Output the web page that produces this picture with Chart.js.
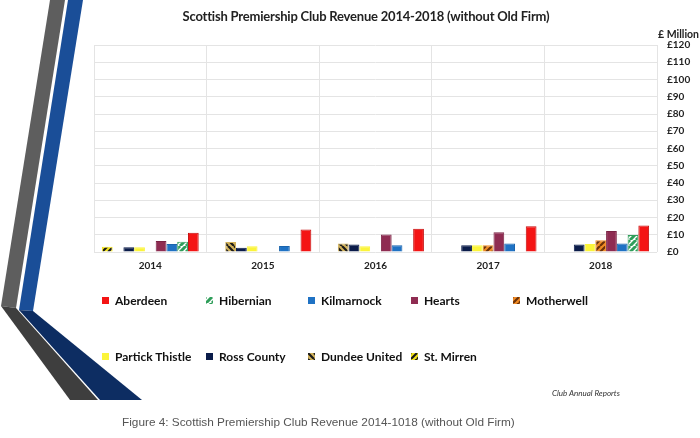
<!DOCTYPE html>
<html>
<head>
<meta charset="utf-8">
<script src="https://cdn.jsdelivr.net/npm/chart.js@4.4.0/dist/chart.umd.min.js"></script>
<style>
  html, body { margin: 0; padding: 0; background: #fff; }
  #wrap { position: relative; width: 700px; height: 438px; overflow: hidden; background: #fff; }
  #deco { position: absolute; left: 0; top: 0; }
  #chart { position: absolute; left: 0; top: 0; }
  #title { position: absolute; left: 116px; width: 500px; top: 8px; text-align: center;
           font-family: Lato, sans-serif; font-weight: 700; font-size: 13px; color: #222; letter-spacing: -0.2px; }
  .leg { position: absolute; font-family: Lato, sans-serif; font-weight: 700; font-size: 12px; color: #111;
         display: flex; align-items: center; white-space: nowrap; }
  .leg canvas { margin-right: 6px; }
  #source { position: absolute; left: 552px; top: 388px; font-family: Lato, sans-serif; font-style: italic;
            font-size: 8px; color: #333; }
  #caption { position: absolute; left: 122px; top: 415px; font-family: "Liberation Sans", Arial, sans-serif;
             font-size: 11.8px; color: #555; }
</style>
</head>
<body>
<div id="wrap">
  <svg id="deco" width="700" height="438" xmlns="http://www.w3.org/2000/svg">
    <polygon points="50,0 65,0 16,308 1,306" fill="#5e5e5e"/>
    <polygon points="1,306 16,308 98,400 70,400" fill="#3e3e3e"/>
    <polygon points="68,0 83,0 33,311 19,310" fill="#1a4e98"/>
    <polygon points="19,310 33,311 142,400 100,400" fill="#0d2d62"/>
  </svg>
  <canvas id="chart" width="700" height="438"></canvas>
  <div id="title">Scottish Premiership Club Revenue 2014-2018 (without Old Firm)</div>
  <div id="legend"></div>
  <div id="source">Club Annual Reports</div>
  <div id="caption">Figure 4: Scottish Premiership Club Revenue 2014-1018 (without Old Firm)</div>
</div>
<script>
// ---- data (values in £ million) ----
const categories = ['2014', '2015', '2016', '2017', '2018'];
const stMirren       = [3.0, null, null, null, null];
const dundeeUnited   = [null, 5.8, 4.9, null, null];
const rossCounty     = [2.8, 2.5, 4.4, 3.9, 4.4];
const partickThistle = [2.8, 3.3, 3.3, 3.9, 4.6];
const motherwell     = [null, null, null, 3.9, 6.8];
const hearts         = [6.4, null, 10.1, 11.4, 12.2];
const kilmarnock     = [4.6, 3.5, 3.9, 5.0, 5.0];
const hibernian      = [6.0, null, null, null, 9.8];
const aberdeen       = [11.2, 13.1, 13.5, 15.0, 15.4];
const yTicks = [0, 10, 20, 30, 40, 50, 60, 70, 80, 90, 100, 110, 120];

function stripes(c1, c2, dir, w) {
  const s = 6;
  const cv = document.createElement('canvas');
  cv.width = s; cv.height = s;
  const c = cv.getContext('2d');
  c.fillStyle = c1; c.fillRect(0, 0, s, s);
  c.strokeStyle = c2; c.lineWidth = w || 2.2;
  c.beginPath();
  for (const off of [-s, 0, s]) {
    if (dir === '/') { c.moveTo(off, s); c.lineTo(off + s, 0); }
    else { c.moveTo(off, 0); c.lineTo(off + s, s); }
  }
  c.stroke();
  return c.createPattern(cv, 'repeat');
}

const ctx = document.getElementById('chart').getContext('2d');
const series = [
  { label: 'St. Mirren', data: stMirren, fill: () => stripes('#f2e21c', '#1a1a1a', '/'), border: '#f2e21c' },
  { label: 'Dundee United', data: dundeeUnited, fill: () => stripes('#d2b25a', '#1a1a1a', '\\'), border: '#d2b25a' },
  { label: 'Ross County', data: rossCounty, fill: () => '#0b1c4a', border: '#0b1c4a' },
  { label: 'Partick Thistle', data: partickThistle, fill: () => '#fbf43a', border: '#fbf43a' },
  { label: 'Motherwell', data: motherwell, fill: () => stripes('#f08a24', '#6a3208', '/'), border: '#f08a24' },
  { label: 'Hearts', data: hearts, fill: () => '#8f2c52', border: '#7a2244' },
  { label: 'Kilmarnock', data: kilmarnock, fill: () => '#1f72c4', border: '#1a64ad' },
  { label: 'Hibernian', data: hibernian, fill: () => stripes('#ffffff', '#2f9e5a', '/', 3), border: '#2f9e5a' },
  { label: 'Aberdeen', data: aberdeen, fill: () => '#f41414', border: '#c40c0c' }
];

const datasets = series.map(s => ({
  label: s.label,
  data: s.data,
  backgroundColor: s.fill(),
  borderColor: s.border,
  borderWidth: 1,
  categoryPercentage: 0.86,
  barPercentage: 1.0
}));

const unitLabel = {
  id: 'unitLabel',
  afterDraw(chart) {
    const c = chart.ctx, a = chart.chartArea;
    c.save();
    c.font = 'bold 10.5px Lato, sans-serif';
    c.fillStyle = '#222';
    c.textAlign = 'left';
    c.textBaseline = 'middle';
    c.fillText('£ Million', a.right + 1, a.top - 10);
    c.restore();
  }
};

const chart = new Chart(ctx, {
  type: 'bar',
  data: { labels: categories, datasets },
  options: {
    responsive: false,
    animation: false,
    devicePixelRatio: 1,
    layout: { padding: { left: 94, right: 0, top: 45, bottom: 166 } },
    plugins: { legend: { display: false }, title: { display: false }, tooltip: { enabled: false } },
    scales: {
      x: {
        offset: true,
        grid: { display: true, offset: true, color: '#e4e4e4', drawTicks: false },
        border: { display: false },
        ticks: { color: '#222', padding: 8, font: { family: 'Lato, sans-serif', size: 10, weight: 'bold' } },
        afterFit(scale) { scale.height = 20; }
      },
      y: {
        position: 'right',
        min: 0, max: 120,
        afterBuildTicks(scale) { scale.ticks = yTicks.map(v => ({ value: v })); },
        grid: { color: '#e4e4e4', drawTicks: false },
        border: { display: false },
        ticks: {
          color: '#222', padding: 10,
          font: { family: 'Lato, sans-serif', size: 10, weight: 'bold' },
          callback: v => '£' + v
        },
        afterFit(scale) { scale.width = 43; }
      }
    }
  },
  plugins: [unitLabel]
});

// ---- HTML legend, built from the datasets (reverse order, 5 columns) ----
const legendCols = [102, 206, 308, 411, 513];
const legendRows = [300, 356];
const legendEl = document.getElementById('legend');
const ordered = chart.data.datasets.slice().reverse();
ordered.forEach((ds, i) => {
  const col = i % 5, row = Math.floor(i / 5);
  const item = document.createElement('div');
  item.className = 'leg';
  item.style.left = legendCols[col] + 'px';
  item.style.top = (legendRows[row] - 9) + 'px';
  item.style.height = '18px';
  const m = document.createElement('canvas');
  m.width = 7; m.height = 7;
  const mc = m.getContext('2d');
  mc.fillStyle = ds.backgroundColor;
  mc.fillRect(0, 0, 7, 7);
  item.appendChild(m);
  const t = document.createElement('span');
  t.textContent = ds.label;
  item.appendChild(t);
  legendEl.appendChild(item);
});
</script>
</body>
</html>
